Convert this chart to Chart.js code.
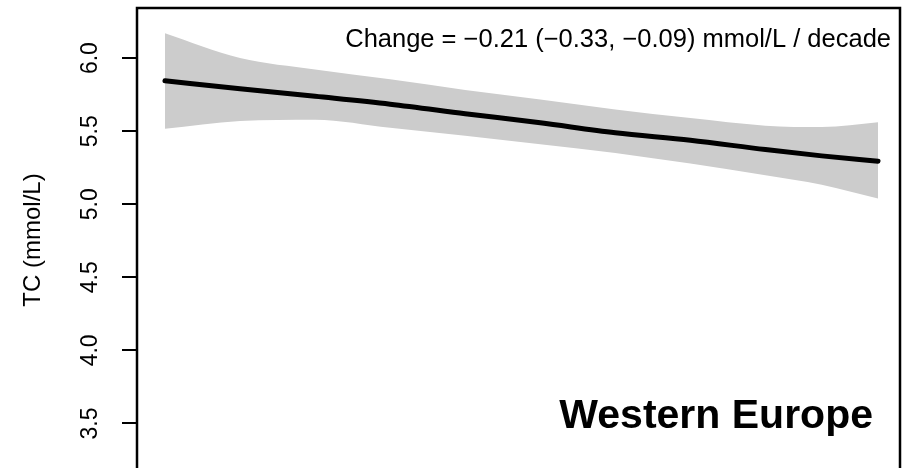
<!DOCTYPE html>
<html>
<head>
<meta charset="utf-8">
<script src="https://cdn.jsdelivr.net/npm/chart.js@4"></script>
<style>
  html, body { margin: 0; padding: 0; background: #fff; overflow: hidden; }
  canvas { display: block; }
</style>
</head>
<body>
<canvas id="chart" width="910" height="468"></canvas>
<script>
// values (x axis is hidden, years are nominal)
const years = [1980, 1984, 1988, 1992, 1996, 2000, 2004, 2008, 2012, 2015, 2018];
const fitted = [5.845, 5.791, 5.739, 5.685, 5.620, 5.557, 5.489, 5.438, 5.374, 5.331, 5.295];
const upper = [6.170, 6.000, 5.922, 5.855, 5.782, 5.716, 5.648, 5.590, 5.538, 5.528, 5.561];
const lower = [5.516, 5.570, 5.579, 5.523, 5.468, 5.410, 5.351, 5.278, 5.199, 5.134, 5.039];
const yTicks = [3.5, 4.0, 4.5, 5.0, 5.5, 6.0];

const yTitle = "TC (mmol/L)";
const changeText = "Change = \u22120.21 (\u22120.33, \u22120.09) mmol/L / decade";
const regionText = "Western Europe";

const FONT = "'Liberation Sans', Arial, sans-serif";

const toPoints = (vals) => years.map((y, i) => ({ x: y, y: vals[i] }));

const decorations = {
    id: "decorations",
    afterDraw(chart) {
        const { ctx, chartArea } = chart;
        const yScale = chart.scales.y;
        ctx.save();

        // frame (bottom edge is off the picture)
        ctx.strokeStyle = "#000";
        ctx.lineWidth = 2.5;
        ctx.beginPath();
        ctx.moveTo(chartArea.left, chartArea.bottom + 5);
        ctx.lineTo(chartArea.left, chartArea.top);
        ctx.lineTo(chartArea.right, chartArea.top);
        ctx.lineTo(chartArea.right, chartArea.bottom + 5);
        ctx.stroke();

        // rotated tick labels
        ctx.fillStyle = "#000";
        ctx.font = "23px " + FONT;
        ctx.textAlign = "center";
        ctx.textBaseline = "middle";
        yTicks.forEach(v => {
            const py = yScale.getPixelForValue(v);
            ctx.save();
            ctx.translate(91, py);
            ctx.rotate(-Math.PI / 2);
            ctx.fillText(v.toFixed(1), 0, 0);
            ctx.restore();
        });

        // axis title
        ctx.save();
        ctx.font = "24px " + FONT;
        ctx.translate(33, 240);
        ctx.rotate(-Math.PI / 2);
        ctx.fillText(yTitle, 0, 0);
        ctx.restore();

        // annotations
        ctx.textAlign = "right";
        ctx.font = "25.5px " + FONT;
        ctx.fillText(changeText, 891, 40);

        ctx.font = "bold 41px " + FONT;
        ctx.textBaseline = "alphabetic";
        ctx.fillText(regionText, 873, 428);

        ctx.restore();
    }
};

let ctx = document.getElementById("chart");
const chartConfig = {
    type: "line",
    data: {
        datasets: [
            {
                label: "lower",
                data: toPoints(lower),
                borderWidth: 0,
                pointRadius: 0,
                fill: false,
                tension: 0.4,
                cubicInterpolationMode: "monotone",
            },
            {
                label: "upper",
                data: toPoints(upper),
                borderWidth: 0,
                pointRadius: 0,
                backgroundColor: "#cccccc",
                fill: "-1",
                tension: 0.4,
                cubicInterpolationMode: "monotone",
            },
            {
                label: "fitted",
                data: toPoints(fitted),
                borderColor: "#000",
                borderWidth: 5,
                borderCapStyle: "round",
                pointRadius: 0,
                fill: false,
                tension: 0.4,
                cubicInterpolationMode: "monotone",
            }
        ]
    },
    options: {
        responsive: false,
        animation: false,
        events: [],
        layout: { padding: { left: 0, top: 8, right: 10, bottom: 0 } },
        plugins: {
            legend: { display: false },
            tooltip: { enabled: false },
            filler: { drawTime: "beforeDatasetsDraw" }
        },
        scales: {
            x: {
                type: "linear",
                display: false,
                min: 1978.51,
                max: 2019.17,
            },
            y: {
                type: "linear",
                min: 3.195,
                max: 6.343,
                afterFit: (scale) => { scale.width = 137; },
                afterBuildTicks: (scale) => {
                    scale.ticks = yTicks.map(v => ({ value: v }));
                },
                border: { display: false },
                grid: {
                    drawOnChartArea: false,
                    drawTicks: true,
                    tickLength: 15,
                    color: "#000",
                    lineWidth: 2,
                },
                ticks: { display: false },
            }
        }
    },
    plugins: [decorations]
};
let chart = new Chart(ctx, chartConfig);
</script>
</body>
</html>
